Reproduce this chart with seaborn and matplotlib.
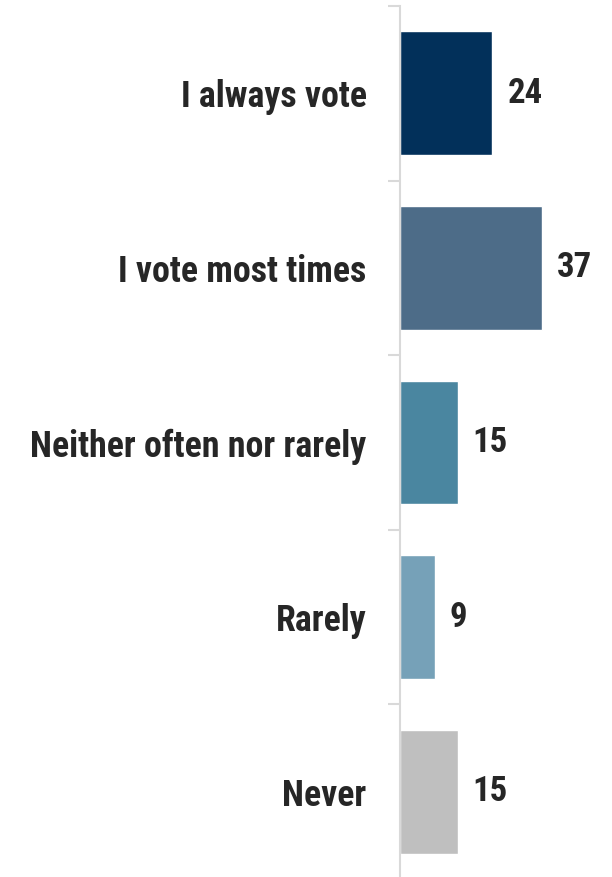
import matplotlib
matplotlib.use("Agg")
import pandas as pd
import seaborn as sns
from matplotlib import pyplot as plt

categories = ["I always vote", "I vote most times", "Neither often nor rarely", "Rarely", "Never"]
values = [24, 37, 15, 9, 15]
colors = ["#02305a", "#4d6c88", "#4a86a0", "#76a1b8", "#bfbfbf"]

df = pd.DataFrame({"answer": categories, "share": values})

sns.set_style("white")
plt.rcParams["font.family"] = ["Liberation Sans Narrow", "Roboto Condensed", "Liberation Sans", "DejaVu Sans"]
plt.rcParams["font.weight"] = "bold"

fig = plt.figure(figsize=(6.12, 8.77), dpi=100)
ax = fig.add_axes([400 / 612, -2 / 877, 212 / 612, 873 / 877])

sns.barplot(data=df, x="share", y="answer", hue="answer", palette=colors,
            orient="h", width=0.71, legend=False, ax=ax, saturation=1)

ax.set_xlim(0, 55.3)
ax.set_ylim(4.5, -0.5)
ax.set_xlabel("")
ax.set_ylabel("")
ax.set_xticks([])
# boundary ticks between categories, labels sit on the minor ticks
ax.set_yticks([i - 0.5 for i in range(6)], minor=False)
ax.set_yticklabels([])
ax.set_yticks(range(5), minor=True)
ax.set_yticklabels(categories, minor=True, fontsize=25.8, fontweight="bold", color="#262626")
ax.tick_params(axis="y", which="major", length=8.5, width=1.5, color="#d9d9d9", left=True)
ax.tick_params(axis="y", which="minor", length=0, pad=24)

for side in ["top", "right", "bottom"]:
    ax.spines[side].set_visible(False)
ax.spines["left"].set_color("#d9d9d9")
ax.spines["left"].set_linewidth(1.5)

for i, v in enumerate(values):
    ax.annotate(str(v), (v, i), xytext=(11, 0), textcoords="offset points",
                va="center", ha="left", fontsize=25, fontweight="bold", color="#262626")

fig.savefig("out.png", dpi=100)
